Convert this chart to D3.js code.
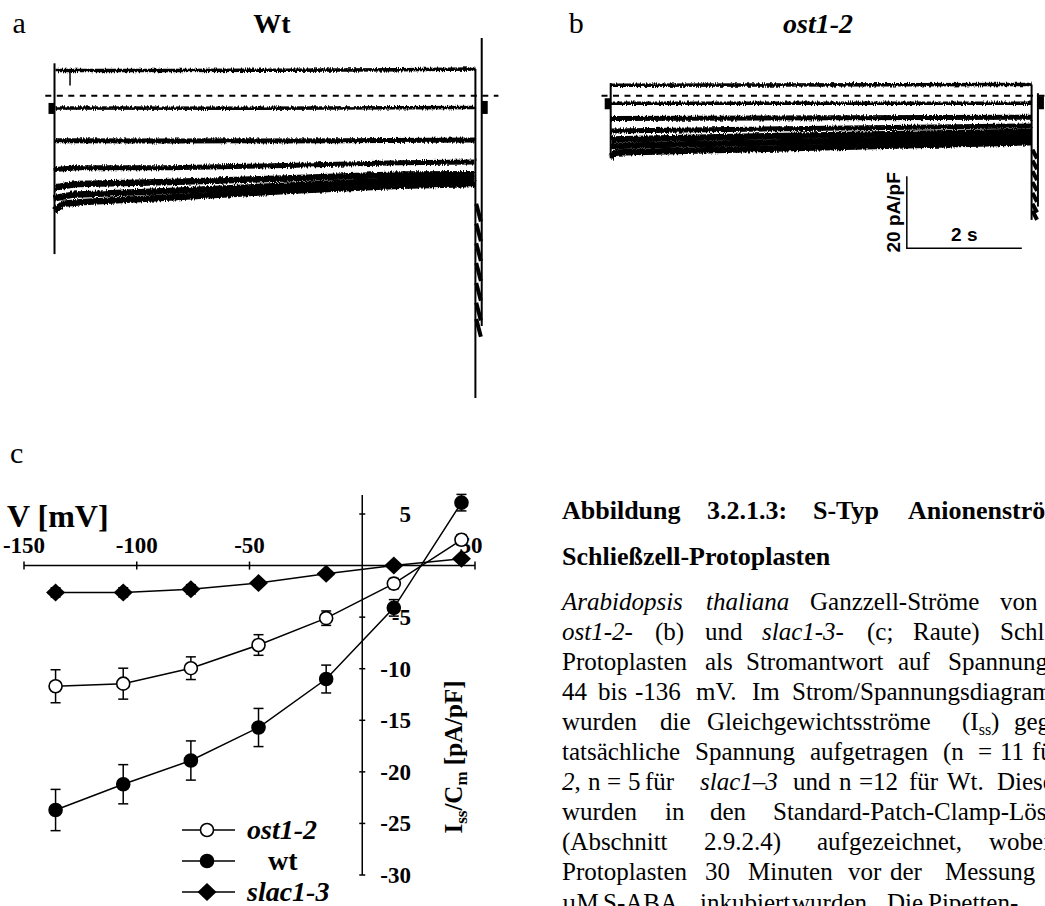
<!DOCTYPE html>
<html>
<head>
<meta charset="utf-8">
<script src="https://cdn.jsdelivr.net/npm/d3@7"></script>
<style>
  body { margin: 0; background: #fff; }
  svg { display: block; }
  text { font-family: "Liberation Serif", "Times New Roman", serif; fill: #000; }
  .sans { font-family: "Liberation Sans", Arial, sans-serif; font-weight: bold; }
</style>
</head>
<body>
<div id="chart"></div>
<script>
// ---- panel c: steady-state I/V (pA/pF vs mV) ----
const voltages = [-136, -106, -76, -46, -16, 14, 44];
const wtMean   = [-23.7, -21.2, -18.9, -15.7, -11.0, -4.1, 6.1];
const wtErr    = [2.0, 1.9, 1.9, 1.85, 1.35, 0.8, 0.8];
const ostMean  = [-11.7, -11.45, -9.95, -7.7, -5.1, -1.75, 2.5];
const ostErr   = [1.6, 1.5, 1.1, 1.0, 0.7, 0.5, 0.5];
const slacMean = [-2.6, -2.6, -2.3, -1.7, -0.8, 0.0, 0.65];
const slacErr  = [0.45, 0.45, 0.45, 0.3, 0.3, 0.2, 0.2];
const xTicksC = [-150, -100, -50, 50];
const yTicksC = [5, -5, -10, -15, -20, -25, -30];

// ---- panels a/b: current traces, [time s, current pA/pF] ----
const wtTraces = [
  [[0, 7.0], [2, 7.0], [4, 7.1], [6, 7.2], [7.32, 7.4]],
  [[0, -3.4], [3.5, -3.5], [7.32, -3.3]],
  [[0, -12.5], [2, -12.6], [5, -12.5], [7.32, -12.3]],
  [[0, -20.5], [0.4, -20.0], [2, -20.0], [4, -19.4], [6, -18.6], [7.32, -18.4]],
  [[0, -25.5], [0.4, -24.5], [2, -24.0], [4, -23.0], [6, -21.9], [7.32, -21.8]],
  [[0, -28.5], [0.3, -27.5], [2, -26.5], [4, -25.0], [6, -23.5], [7.32, -23.0]],
  [[0, -32.0], [0.15, -30.0], [0.5, -29.5], [2, -28.3], [4, -26.5], [6, -25.0], [7.32, -24.5]]
];
const wtSpike = [[0.27, 7.0], [0.27, 2.8]];
const ostTraces = [
  [[0, 2.9], [7.32, 3.1]],
  [[0, -2.1], [7.32, -2.1]],
  [[0, -6.3], [7.32, -6.0]],
  [[0, -9.8], [3, -9.2], [7.32, -8.4]],
  [[0, -12.2], [3, -11.2], [7.32, -10.0]],
  [[0, -14.0], [3, -12.9], [7.32, -11.5]],
  [[0, -17.2], [0.1, -15.8], [3, -14.6], [7.32, -12.9]]
];
// tail current peaks after the pulse
const wtTails  = [-30, -35.5, -41, -46.5, -52, -57.5, -62];
const ostTails = [-15, -18, -21, -24, -27, -30, -32];
// capacitive transients [top, bottom]
const wtOn = [9, -44], wtOff = [7.4, -84], wtEnd = [16, -64];
const ostOn = [3.5, -17.4], ostOff = [3.1, -34.5], ostEnd = [0.7, -30.8];

const W = 1045, H = 906;
const svg = d3.select("#chart").append("svg").attr("width", W).attr("height", H);
svg.append("rect").attr("width", W).attr("height", H).attr("fill", "#fff");

const defs = svg.append("defs");
const flt = defs.append("filter").attr("id", "rough")
  .attr("x", "-2%").attr("y", "-20%").attr("width", "104%").attr("height", "140%");
flt.append("feTurbulence").attr("type", "fractalNoise").attr("baseFrequency", "0.9 0.2")
  .attr("numOctaves", 1).attr("seed", 4).attr("result", "t");
flt.append("feDisplacementMap").attr("in", "SourceGraphic").attr("in2", "t")
  .attr("scale", 5).attr("xChannelSelector", "R").attr("yChannelSelector", "G");

// ================= panels a and b =================
function tracePanel(x0, traces, tails, on, off, end, label, title, titleItalic, titleX) {
  const x = d3.scaleLinear().domain([0, 7.32]).range([x0, x0 + 420.9]);
  const y = d3.scaleLinear().domain([0, -20]).range([95.7, 167.7]);
  const g = svg.append("g");

  g.append("text").attr("x", x0 - 42).attr("y", 33).attr("font-size", 30).text(label);
  g.append("text").attr("x", titleX).attr("y", 33).attr("text-anchor", "middle")
    .attr("font-size", 28).attr("font-weight", "bold")
    .attr("font-style", titleItalic ? "italic" : "normal").text(title);

  // zero-current line
  g.append("line").attr("x1", x(-0.16)).attr("x2", x(7.72)).attr("y1", y(0)).attr("y2", y(0))
    .attr("stroke", "#000").attr("stroke-width", 2).attr("stroke-dasharray", "6,5.5");

  // holding markers
  const hold = traces[1][0][1];
  g.append("rect").attr("x", x(0) - 6).attr("y", y(hold) - 5).attr("width", 6).attr("height", 11).attr("fill", "#000");
  g.append("rect").attr("x", x(7.43)).attr("y", y(hold) - 7).attr("width", 6).attr("height", 13).attr("fill", "#000");

  const line = d3.line().x(d => x(d[0])).y(d => y(d[1]));
  const tg = g.append("g").attr("filter", "url(#rough)");
  tg.selectAll("path.trace").data(traces).join("path").attr("class", "trace")
    .attr("d", line).attr("fill", "none").attr("stroke", "#000")
    .attr("stroke-width", (d, i) => i < 2 ? 3.5 : i < 4 ? 5 : 6.5);

  // transients
  g.append("line").attr("x1", x(0)).attr("x2", x(0)).attr("y1", y(on[0])).attr("y2", y(on[1]))
    .attr("stroke", "#000").attr("stroke-width", 2);
  g.append("line").attr("x1", x(7.32)).attr("x2", x(7.32)).attr("y1", y(off[0])).attr("y2", y(off[1]))
    .attr("stroke", "#000").attr("stroke-width", 2);
  g.append("line").attr("x1", x(7.43)).attr("x2", x(7.43)).attr("y1", y(end[0])).attr("y2", y(end[1]))
    .attr("stroke", "#000").attr("stroke-width", 2);
  // top trace closes onto the offset transient
  const last = traces[0][traces[0].length - 1][1];
  g.append("line").attr("x1", x(7.2)).attr("x2", x(7.32)).attr("y1", y(last)).attr("y2", y(last))
    .attr("stroke", "#000").attr("stroke-width", 2.5);

  // tail currents squeezed between the two transients
  const step = tails.length > 1 ? Math.abs(y(tails[1]) - y(tails[0])) : 10;
  g.selectAll("line.tail").data(tails).join("line").attr("class", "tail")
    .attr("x1", x(7.335)).attr("x2", x(7.415))
    .attr("y1", d => y(d)).attr("y2", d => y(d) + step - 2)
    .attr("stroke", "#000").attr("stroke-width", 4);
  return { x, y, g };
}

const pa = tracePanel(54.5, wtTraces, wtTails, wtOn, wtOff, wtEnd, "a", "Wt", false, 272);
pa.g.append("path").datum(wtSpike).attr("d", d3.line().x(d => pa.x(d[0])).y(d => pa.y(d[1])))
  .attr("stroke", "#000").attr("stroke-width", 1.5);
const pb = tracePanel(610.7, ostTraces, ostTails, ostOn, ostOff, ostEnd, "b", "ost1-2", true, 818);

// scale bar (panel b scales)
const sbT = 5.15, sbI = -42.4;
pb.g.append("path")
  .attr("d", `M${pb.x(sbT)},${pb.y(sbI + 20)}V${pb.y(sbI)}H${pb.x(sbT + 2)}`)
  .attr("fill", "none").attr("stroke", "#000").attr("stroke-width", 1.5);
pb.g.append("text").attr("class", "sans").attr("x", pb.x(sbT + 1)).attr("y", pb.y(sbI) - 7)
  .attr("text-anchor", "middle").attr("font-size", 19).text("2 s");
pb.g.append("text").attr("class", "sans")
  .attr("transform", `translate(${pb.x(sbT) - 7},${pb.y(sbI + 10)}) rotate(-90)`)
  .attr("text-anchor", "middle").attr("font-size", 19).text("20 pA/pF");

// ================= panel c =================
const xC = d3.scaleLinear().domain([-150, 50]).range([24, 475]);
const yC = d3.scaleLinear().domain([-30, 5]).range([875, 514]);
const gc = svg.append("g");

gc.append("text").attr("x", 10).attr("y", 463).attr("font-size", 30).text("c");

// x axis (voltage)
gc.append("line").attr("x1", xC(-150)).attr("x2", xC(50)).attr("y1", yC(0)).attr("y2", yC(0))
  .attr("stroke", "#000").attr("stroke-width", 1.5);
gc.selectAll("line.xt").data(xTicksC).join("line").attr("class", "xt")
  .attr("x1", d => xC(d)).attr("x2", d => xC(d)).attr("y1", yC(0) - 4).attr("y2", yC(0) + 4)
  .attr("stroke", "#000").attr("stroke-width", 1.5);
gc.selectAll("text.xl").data(xTicksC).join("text").attr("class", "xl")
  .attr("x", d => xC(d) + (d === 50 ? -4 : 0)).attr("y", 553).attr("text-anchor", "middle")
  .attr("font-size", 23).attr("font-weight", "bold").text(d => d);
gc.append("text").attr("x", 7).attr("y", 527).attr("font-size", 32).attr("font-weight", "bold").text("V [mV]");

// y axis (current density)
gc.append("line").attr("x1", xC(0)).attr("x2", xC(0)).attr("y1", 495).attr("y2", yC(-30))
  .attr("stroke", "#000").attr("stroke-width", 1.5);
gc.selectAll("line.yt").data(yTicksC).join("line").attr("class", "yt")
  .attr("x1", xC(0) - 3).attr("x2", xC(0) + 3).attr("y1", d => yC(d)).attr("y2", d => yC(d))
  .attr("stroke", "#000").attr("stroke-width", 1.5);
gc.selectAll("text.yl").data(yTicksC).join("text").attr("class", "yl")
  .attr("x", 411).attr("y", d => yC(d) + 8).attr("text-anchor", "end")
  .attr("font-size", 23).attr("font-weight", "bold").text(d => d);
const yl = gc.append("text").attr("transform", `translate(462,757) rotate(-90)`)
  .attr("text-anchor", "middle").attr("font-size", 25).attr("font-weight", "bold");
yl.append("tspan").text("I");
yl.append("tspan").attr("font-size", 17).attr("dy", 5).text("ss");
yl.append("tspan").attr("dy", -5).text("/C");
yl.append("tspan").attr("font-size", 17).attr("dy", 5).text("m");
yl.append("tspan").attr("dy", -5).text(" [pA/pF]");

const series = [
  { name: "ost1-2", mean: ostMean, err: ostErr, sym: "circle", fill: "#fff", italic: true },
  { name: "wt", mean: wtMean, err: wtErr, sym: "circle", fill: "#000", italic: false },
  { name: "slac1-3", mean: slacMean, err: slacErr, sym: "diamond", fill: "#000", italic: true }
];
const lineC = d3.line().x(d => xC(d.v)).y(d => yC(d.m));
const pts = s => voltages.map((v, i) => ({ v, m: s.mean[i], e: s.err[i] }));

function drawMarker(sel, s) {
  if (s.sym === "circle") {
    sel.append("circle").attr("r", 6.5).attr("fill", s.fill).attr("stroke", "#000").attr("stroke-width", 1.6);
  } else {
    sel.append("path").attr("d", "M0,-9L9.5,0L0,9L-9.5,0Z").attr("fill", "#000");
  }
}

series.forEach(s => {
  const d = pts(s);
  gc.append("path").datum(d).attr("d", lineC).attr("fill", "none").attr("stroke", "#000").attr("stroke-width", 1.5);
  const eb = gc.append("g").selectAll("g").data(d).join("g")
    .attr("stroke", "#000").attr("stroke-width", 1.5);
  eb.append("line").attr("x1", p => xC(p.v)).attr("x2", p => xC(p.v))
    .attr("y1", p => yC(p.m + p.e)).attr("y2", p => yC(p.m - p.e));
  eb.append("line").attr("x1", p => xC(p.v) - 5).attr("x2", p => xC(p.v) + 5)
    .attr("y1", p => yC(p.m + p.e)).attr("y2", p => yC(p.m + p.e));
  eb.append("line").attr("x1", p => xC(p.v) - 5).attr("x2", p => xC(p.v) + 5)
    .attr("y1", p => yC(p.m - p.e)).attr("y2", p => yC(p.m - p.e));
});
series.forEach(s => {
  gc.append("g").selectAll("g").data(pts(s)).join("g")
    .attr("transform", p => `translate(${xC(p.v)},${yC(p.m)})`)
    .each(function () { drawMarker(d3.select(this), s); });
});

// legend
const leg = gc.selectAll("g.leg").data(series).join("g").attr("class", "leg")
  .attr("transform", (d, i) => `translate(207,${830 + i * 31})`);
leg.append("line").attr("x1", -25).attr("x2", 28).attr("stroke", "#000").attr("stroke-width", 1.5);
leg.each(function (s) { drawMarker(d3.select(this), s); });
leg.append("text").attr("x", d => d.italic ? 40 : 61).attr("y", 9)
  .attr("font-size", 28).attr("font-weight", "bold")
  .attr("font-style", d => d.italic ? "italic" : "normal").text(d => d.name);

// ================= caption =================
const capHead = [
  { y: 519, words: [["Abbildung", 562], ["3.2.1.3:", 707], ["S-Typ", 813], ["Anionenströme", 908]] },
  { y: 565, words: [["Schließzell-Protoplasten", 562]] }
];
// words: [text, x, italic, suffix, subscript, after]
const capBody = [
  { y: 610, words: [["Arabidopsis", 562, 1], ["thaliana", 706, 1], ["Ganzzell-Ströme", 810], ["von", 1000]] },
  { y: 640, words: [["ost1-2", 562, 1, "-"], ["(b)", 655], ["und", 705], ["slac1-3", 762, 1, "-"], ["(c;", 867], ["Raute)", 913], ["Schließzell-", 1000]] },
  { y: 670, words: [["Protoplasten", 562], ["als", 705], ["Stromantwort", 746], ["auf", 898], ["Spannungspulse", 948]] },
  { y: 700, words: [["44", 562], ["bis", 598], ["-136", 635], ["mV.", 696], ["Im", 752], ["Strom/Spannungsdiagramm", 792]] },
  { y: 730, words: [["wurden", 562], ["die", 660], ["Gleichgewichtsströme", 707], ["(I", 962, 0, "", "ss", ")"], ["gegen", 1014]] },
  { y: 760, words: [["tatsächliche", 562], ["Spannung", 695], ["aufgetragen", 810], ["(n", 943], ["=", 978], ["11", 1000], ["für", 1032]] },
  { y: 790, words: [["2", 562, 1, ","], ["n", 588], ["=", 607], ["5", 628], ["für", 645], ["slac1–3", 700, 1], ["und", 793], ["n", 839], ["=12", 859], ["für", 909], ["Wt.", 947], ["Diese", 997]] },
  { y: 820, words: [["wurden", 562], ["in", 665], ["den", 710], ["Standard-Patch-Clamp-Lösungen", 773]] },
  { y: 850, words: [["(Abschnitt", 562], ["2.9.2.4)", 704], ["aufgezeichnet,", 817], ["wobei", 989]] },
  { y: 880, words: [["Protoplasten", 562], ["30", 705], ["Minuten", 748], ["vor", 848], ["der", 890], ["Messung", 945]] },
  { y: 911, words: [["µM", 562], ["S-ABA", 603], ["inkubiert", 700], ["wurden.", 792], ["Die", 887], ["Pipetten-", 928]] }
];

const cap = svg.append("g");
capHead.forEach(l => l.words.forEach(w => {
  cap.append("text").attr("x", w[1]).attr("y", l.y).attr("font-size", 26).attr("font-weight", "bold").text(w[0]);
}));
capBody.forEach(l => l.words.forEach(w => {
  const t = cap.append("text").attr("x", w[1]).attr("y", l.y).attr("font-size", 25);
  t.append("tspan").attr("font-style", w[2] ? "italic" : "normal").text(w[0]);
  if (w[4]) {
    t.append("tspan").attr("font-size", 16).attr("dy", 5).text(w[4]);
    t.append("tspan").attr("dy", -5).text(w[5]);
  } else if (w[3]) {
    t.append("tspan").text(w[3]);
  }
}));
</script>
</body>
</html>
